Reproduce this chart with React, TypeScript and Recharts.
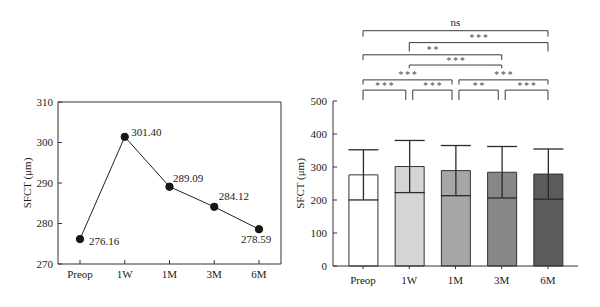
import React from "react";
import {
  Bar,
  BarChart,
  CartesianGrid,
  Cell,
  ErrorBar,
  LabelList,
  Line,
  LineChart,
  ReferenceLine,
  XAxis,
  YAxis,
} from "recharts";

const visits = ["Preop", "1W", "1M", "3M", "6M"];
const meanSfct = [276.16, 301.4, 289.09, 284.12, 278.59];
const sdSfct = [76, 79, 76, 78, 76];
const lineTicks = [270, 280, 290, 300, 310];
const barTicks = [0, 50, 100, 150, 200, 250, 300, 350, 400, 450, 500];

// pairwise comparisons between visits, drawn as brackets above the bars
const comparisons = [
  { a: 0, b: 1, sig: "***", row: 0 },
  { a: 1, b: 2, sig: "***", row: 0 },
  { a: 2, b: 3, sig: "**", row: 0 },
  { a: 3, b: 4, sig: "***", row: 0 },
  { a: 0, b: 2, sig: "***", row: 1 },
  { a: 2, b: 4, sig: "***", row: 1 },
  { a: 1, b: 3, sig: "***", row: 2 },
  { a: 0, b: 3, sig: "**", row: 3 },
  { a: 1, b: 4, sig: "***", row: 4 },
  { a: 0, b: 4, sig: "ns", row: 5 },
];

// bracket heights in axis units (line level and where the legs end)
const rowTop = [533, 564, 609, 640, 677, 713];
const rowLeg = [503, 550, 599, 624, 650, 695];
const SHARED_GAP = 0.075;

const FONT = '"Liberation Serif", "Times New Roman", serif';
const INK = "#1a1a1a";

const lineData = visits.map((name, i) => ({ name, sfct: meanSfct[i] }));
const barData = visits.map((name, i) => ({
  idx: i,
  name,
  sfct: meanSfct[i],
  sd: sdSfct[i],
}));
const barFills = ["#ffffff", "#d5d5d5", "#a6a6a6", "#878787", "#5c5c5c"];

// where each value label sits relative to its point
const labelPos = [
  { dx: 9, dy: 5.5, anchor: "start" },
  { dx: 6.5, dy: -1, anchor: "start" },
  { dx: 3.5, dy: -4.5, anchor: "start" },
  { dx: 4.5, dy: -6.5, anchor: "start" },
  { dx: -3, dy: 13.5, anchor: "middle" },
];

const PointLabel = (p: any) => {
  const x = p.x ?? p.viewBox?.x;
  const y = p.y ?? p.viewBox?.y;
  const pos = labelPos[p.index] ?? labelPos[0];
  return (
    <text
      x={x + pos.dx}
      y={y + pos.dy}
      textAnchor={pos.anchor}
      fontFamily={FONT}
      fontSize={11}
      fill={INK}
    >
      {Number(p.value).toFixed(2)}
    </text>
  );
};

const BarYTick = (p: any) => {
  const major = p.payload.value % 100 === 0;
  const axisX = p.x + 6;
  return (
    <g>
      <line
        x1={axisX}
        x2={axisX + (major ? 4 : 2.5)}
        y1={p.y}
        y2={p.y}
        stroke="#333"
      />
      {major && (
        <text
          x={p.x}
          y={p.y}
          dy={4}
          textAnchor="end"
          fontFamily={FONT}
          fontSize={11}
          fill={INK}
        >
          {p.payload.value}
        </text>
      )}
    </g>
  );
};

const SigText = (text: string) => (p: any) => {
  const vb = p.viewBox ?? {};
  const cx = vb.x + (vb.width ?? 0) / 2;
  const stars = text !== "ns";
  return (
    <text
      x={cx + (stars ? 1 : 0)}
      y={vb.y - (stars ? 1.5 : 5)}
      textAnchor="middle"
      fontFamily={FONT}
      fontSize={stars ? 9.5 : 11}
      letterSpacing={stars ? 2 : 0}
      fill={stars ? "#444" : INK}
    >
      {text}
    </text>
  );
};

function brackets() {
  const shared = (row: number, idx: number, self: number) =>
    comparisons.some(
      (c, k) => k !== self && c.row === row && (c.a === idx || c.b === idx)
    );
  return comparisons.flatMap((c, k) => {
    const x1 = c.a + (shared(c.row, c.a, k) ? SHARED_GAP : 0);
    const x2 = c.b - (shared(c.row, c.b, k) ? SHARED_GAP : 0);
    const top = rowTop[c.row];
    const leg = rowLeg[c.row];
    const common = { stroke: "#3a3a3a", strokeWidth: 1, ifOverflow: "visible" as const };
    return [
      <ReferenceLine
        key={`h${k}`}
        segment={[
          { x: x1, y: top },
          { x: x2, y: top },
        ]}
        label={SigText(c.sig)}
        {...common}
      />,
      <ReferenceLine
        key={`l${k}`}
        segment={[
          { x: x1, y: top },
          { x: x1, y: leg },
        ]}
        {...common}
      />,
      <ReferenceLine
        key={`r${k}`}
        segment={[
          { x: x2, y: top },
          { x: x2, y: leg },
        ]}
        {...common}
      />,
    ];
  });
}

export default function App() {
  const tickStyle = { fontFamily: FONT, fontSize: 11, fill: INK };
  return (
    <div
      style={{
        position: "absolute",
        left: 0,
        top: 0,
        width: 600,
        height: 307,
        background: "#fff",
      }}
    >
      <div style={{ position: "absolute", left: 0, top: 0 }}>
        <LineChart
          width={290}
          height={307}
          data={lineData}
          margin={{ top: 102, right: 9, bottom: 13, left: 18 }}
        >
          <CartesianGrid
            stroke="#333"
            horizontalCoordinatesGenerator={({ offset }: any) => [offset.top]}
            verticalCoordinatesGenerator={({ offset }: any) => [
              offset.left + offset.width,
            ]}
          />
          <XAxis
            dataKey="name"
            padding={{ left: 22, right: 22 }}
            stroke="#333"
            tickSize={-4}
            tickMargin={10}
            tick={tickStyle}
            height={30}
          />
          <YAxis
            domain={[270, 310]}
            ticks={lineTicks}
            width={40}
            stroke="#333"
            tickSize={-4}
            tickMargin={9}
            tick={tickStyle}
            label={{
              value: "SFCT (μm)",
              angle: -90,
              position: "insideLeft",
              offset: 9,
              style: { textAnchor: "middle", fontFamily: FONT, fontSize: 11, fill: INK },
            }}
          />
          <Line
            dataKey="sfct"
            stroke="#222"
            strokeWidth={1}
            dot={{ r: 3.7, fill: "#1c1414", stroke: "#1c1414" }}
            isAnimationActive={false}
          >
            <LabelList dataKey="sfct" content={PointLabel} />
          </Line>
        </LineChart>
      </div>
      <div style={{ position: "absolute", left: 290, top: 0 }}>
        <BarChart
          width={310}
          height={307}
          data={barData}
          margin={{ top: 101, right: 22, bottom: 11, left: 3 }}
        >
          <XAxis
            dataKey="idx"
            type="number"
            domain={[-0.65, 4.65]}
            ticks={[0, 1, 2, 3, 4]}
            tickFormatter={(v) => visits[v]}
            stroke="#333"
            tickSize={3}
            tickMargin={7}
            tick={tickStyle}
            height={30}
          />
          <YAxis
            domain={[0, 500]}
            ticks={barTicks}
            width={40}
            stroke="#333"
            tickLine={false}
            tickSize={0}
            tickMargin={6}
            tick={BarYTick}
            label={{
              value: "SFCT (μm)",
              angle: -90,
              position: "insideLeft",
              offset: 7,
              style: { textAnchor: "middle", fontFamily: FONT, fontSize: 11, fill: INK },
            }}
          />
          <Bar
            dataKey="sfct"
            barSize={29}
            stroke="#333"
            strokeWidth={1}
            isAnimationActive={false}
          >
            {barData.map((d, i) => (
              <Cell key={d.name} fill={barFills[i]} />
            ))}
            <ErrorBar
              dataKey="sd"
              direction="y"
              width={15}
              stroke="#2a2a2a"
              strokeWidth={1.3}
              isAnimationActive={false}
            />
          </Bar>
          {brackets()}
        </BarChart>
      </div>
    </div>
  );
}
